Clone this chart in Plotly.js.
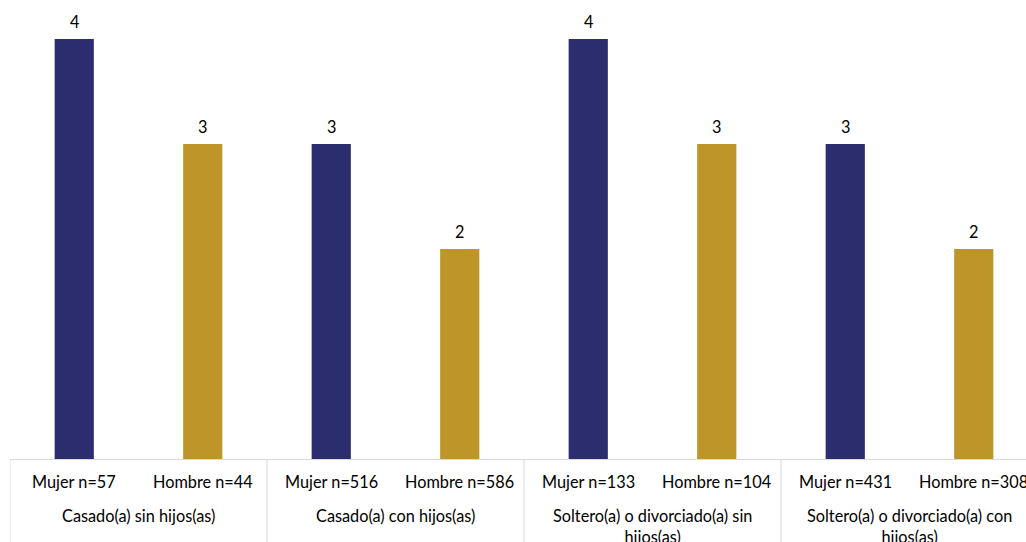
<!DOCTYPE html>
<html>
<head>
<meta charset="utf-8">
<script src="https://cdn.plot.ly/plotly-3.0.1.min.js"></script>
<style>
html,body{margin:0;padding:0;overflow:hidden;background:#fff;}
#chart{width:1048px;height:560px;}
</style>
</head>
<body>
<div id="chart"></div>
<script>
const barLabels = ["Mujer n=57","Hombre n=44","Mujer n=516","Hombre n=586","Mujer n=133","Hombre n=104","Mujer n=431","Hombre n=308"];
const values = [4,3,3,2,4,3,3,2];
const groupLabels = ["Casado(a) sin hijos(as)","Casado(a) con hijos(as)","Soltero(a) o divorciado(a) sin<br>hijos(as)","Soltero(a) o divorciado(a) con<br>hijos(as)"];
const sexes = ["Mujer","Hombre","Mujer","Hombre","Mujer","Hombre","Mujer","Hombre"];

const colorMap = {Mujer:"#2B2D6E", Hombre:"#BE9529"};
const xs = values.map((v,i)=>i);
const FONT = "Lato, 'Open Sans', sans-serif";
const FS = 16.3;

const trace = {
  type:"bar",
  x: xs,
  y: values,
  width: 0.305,
  marker:{color: sexes.map(s=>colorMap[s])},
  hoverinfo:"skip"
};

const annotations = [];
values.forEach((v,i)=>{
  annotations.push({x:i, y:v, xref:"x", yref:"y", text:String(v), showarrow:false,
    yanchor:"bottom", yshift:6, font:{family:FONT,size:FS,color:"#000"}});
  annotations.push({x:i, y:0, xref:"x", yref:"paper", text:barLabels[i], showarrow:false,
    yanchor:"middle", yshift:-22, font:{family:FONT,size:FS,color:"#000"}});
});
groupLabels.forEach((g,j)=>{
  annotations.push({x:2*j+0.5, y:0, xref:"x", yref:"paper", text:g, showarrow:false,
    yanchor:"top", yshift:-45, font:{family:FONT,size:FS,color:"#000"}});
});

const shapes = [];
for(let j=0;j<=groupLabels.length;j++){
  shapes.push({type:"line", xref:"x", yref:"paper", x0:2*j-0.5, x1:2*j-0.5, y0:0, y1:-0.3,
    line:{color:"#D9D9D9", width:1}});
}

const layout = {
  width:1048, height:560,
  margin:{l:10, r:10, t:10, b:101},
  paper_bgcolor:"#fff", plot_bgcolor:"#fff",
  showlegend:false,
  xaxis:{range:[-0.5,7.5], showticklabels:false, ticks:"", showgrid:false, zeroline:false,
    showline:true, linecolor:"#D9D9D9", linewidth:1, fixedrange:true},
  yaxis:{range:[0,4.276], visible:false, showgrid:false, zeroline:false, fixedrange:true},
  annotations: annotations,
  shapes: shapes,
  font:{family:FONT}
};

Plotly.newPlot("chart",[trace],layout,{displayModeBar:false, staticPlot:true});
</script>
</body>
</html>
